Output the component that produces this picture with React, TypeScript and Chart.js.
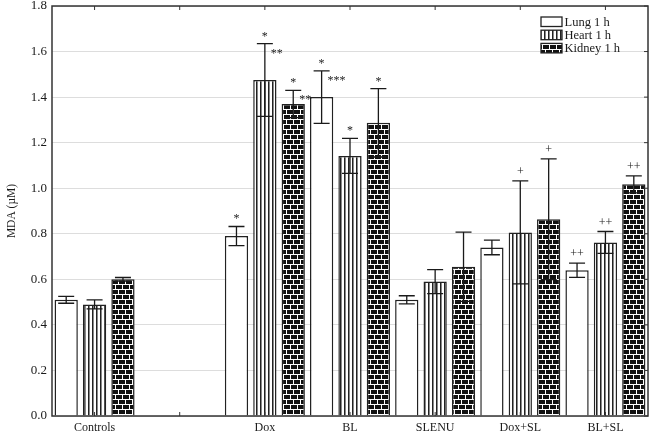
import React, { useEffect, useRef } from "react";
import { Chart, registerables } from "chart.js";
Chart.register(...registerables);

const categories = ["Controls", "", "Dox", "BL", "SLENU", "Dox+SL", "BL+SL"];
const seriesLabels = ["Lung 1 h", "Heart 1 h", "Kidney 1 h"];
const lungValues = [0.51, null, 0.79, 1.4, 0.51, 0.74, 0.64];
const heartValues = [0.49, null, 1.475, 1.142, 0.59, 0.806, 0.762];
const kidneyValues = [0.6, null, 1.37, 1.287, 0.655, 0.864, 1.017];
const lungErrors = [0.015, null, 0.042, 0.115, 0.018, 0.032, 0.031];
const heartErrors = [0.02, null, 0.16, 0.077, 0.053, 0.226, 0.048];
const kidneyErrors = [0.008, null, 0.06, 0.15, 0.152, 0.265, 0.037];
const lungMarks = ["", "", "*", "*", "", "", "++"];
const heartMarks = ["", "", "*", "*", "", "+", "++"];
const kidneyMarks = ["", "", "*", "*", "", "+", "++"];
const lungSideMarks = ["", "", "", "***", "", "", ""];
const heartSideMarks = ["", "", "**", "", "", "", ""];
const kidneySideMarks = ["", "", "**", "", "", "", ""];
const yMin = 0;
const yMax = 1.8;
const yStep = 0.2;
const yTitle = "MDA (\u00b5M)";

const SERIF = "'Liberation Serif', 'DejaVu Serif', serif";

function makePattern(kind: string): CanvasPattern | string {
  const c = document.createElement("canvas");
  const ctx = c.getContext("2d")!;
  if (kind === "stripes") {
    c.width = 4;
    c.height = 4;
    ctx.fillStyle = "#ffffff";
    ctx.fillRect(0, 0, 4, 4);
    ctx.fillStyle = "#222222";
    ctx.fillRect(0, 0, 1, 4);
    ctx.fillStyle = "#888888";
    ctx.fillRect(1, 0, 1, 4);
  } else if (kind === "bricks") {
    c.width = 7;
    c.height = 10;
    ctx.fillStyle = "#ffffff";
    ctx.fillRect(0, 0, 7, 10);
    ctx.fillStyle = "#111111";
    ctx.fillRect(0, 0, 6, 4);
    ctx.fillRect(0, 5, 3, 4);
    ctx.fillRect(4, 5, 3, 4);
  } else {
    return "#ffffff";
  }
  return ctx.createPattern(c, "repeat")!;
}

const errorsBySeries = [lungErrors, heartErrors, kidneyErrors];
const marksBySeries = [lungMarks, heartMarks, kidneyMarks];
const sideBySeries = [lungSideMarks, heartSideMarks, kidneySideMarks];

const errorBarPlugin = {
  id: "errorBars",
  afterDatasetsDraw(chart: any) {
    const ctx = chart.ctx;
    const ys = chart.scales.y;
    ctx.save();
    ctx.strokeStyle = "#1a1a1a";
    ctx.lineWidth = 1.3;
    ctx.fillStyle = "#1a1a1a";
    ctx.font = `12px ${SERIF}`;
    ctx.textBaseline = "alphabetic";
    chart.data.datasets.forEach((ds: any, d: number) => {
      const meta = chart.getDatasetMeta(d);
      ds.data.forEach((v: number | null, i: number) => {
        if (v === null || v === undefined) return;
        const e = errorsBySeries[d][i];
        const el = meta.data[i];
        const x = el.x;
        if (e !== null && e !== undefined) {
          const yHi = ys.getPixelForValue(v + e);
          const yLo = ys.getPixelForValue(v - e);
          const hw = 8;
          ctx.beginPath();
          ctx.moveTo(x, yHi);
          ctx.lineTo(x, yLo);
          ctx.moveTo(x - hw, yHi);
          ctx.lineTo(x + hw, yHi);
          ctx.moveTo(x - hw, yLo);
          ctx.lineTo(x + hw, yLo);
          ctx.stroke();
          const m = marksBySeries[d][i];
          if (m) {
            const off = m.includes("*") ? 4 : 6;
            ctx.textAlign = "center";
            ctx.fillText(m, x, yHi - off);
          }
          const s = sideBySeries[d][i];
          if (s) {
            ctx.textAlign = "left";
            ctx.fillText(s, x + 6, yHi + 13);
          }
        }
      });
    });
    ctx.restore();
  },
};

const framePlugin = {
  id: "frame",
  afterDraw(chart: any) {
    const ctx = chart.ctx;
    const a = chart.chartArea;
    const xs = chart.scales.x;
    const ys = chart.scales.y;
    ctx.save();
    ctx.strokeStyle = "#333333";
    ctx.lineWidth = 1.5;
    ctx.strokeRect(a.left, a.top, a.right - a.left, a.bottom - a.top);
    ctx.lineWidth = 1;
    ctx.beginPath();
    categories.forEach((_c, i) => {
      const x = xs.getPixelForTick(i);
      ctx.moveTo(x, a.top);
      ctx.lineTo(x, a.top + 4);
      ctx.moveTo(x, a.bottom);
      ctx.lineTo(x, a.bottom - 4);
    });
    for (let v = yMin; v <= yMax + 1e-9; v += yStep) {
      const y = ys.getPixelForValue(v);
      ctx.moveTo(a.right, y);
      ctx.lineTo(a.right - 4, y);
    }
    ctx.stroke();
    ctx.restore();
  },
};

const legendPlugin = {
  id: "customLegend",
  afterDraw(chart: any) {
    const ctx = chart.ctx;
    ctx.save();
    const bx = 541;
    const by = 17;
    const bw = 21;
    const bh = 9.5;
    const gap = 13.2;
    ctx.font = `12.5px ${SERIF}`;
    ctx.textAlign = "left";
    ctx.textBaseline = "middle";
    chart.data.datasets.forEach((ds: any, d: number) => {
      const y = by + d * gap;
      ctx.fillStyle = ds.backgroundColor;
      ctx.fillRect(bx, y, bw, bh);
      ctx.strokeStyle = "#222";
      ctx.lineWidth = 1.3;
      ctx.strokeRect(bx, y, bw, bh);
      ctx.fillStyle = "#1a1a1a";
      ctx.fillText(ds.label, bx + bw + 2.5, y + bh / 2 + 0.5);
    });
    ctx.restore();
  },
};

export default function App() {
  const ref = useRef<HTMLCanvasElement>(null);
  useEffect(() => {
    document.body.style.margin = "0";
    const canvas = ref.current!;
    const fills = [makePattern("plain"), makePattern("stripes"), makePattern("bricks")];
    const valuesBySeries = [lungValues, heartValues, kidneyValues];
    const chart = new Chart(canvas, {
      type: "bar",
      data: {
        labels: categories,
        datasets: seriesLabels.map((label, d) => ({
          label,
          data: valuesBySeries[d] as any,
          backgroundColor: fills[d] as any,
          borderColor: "#222222",
          borderWidth: 1.5,
          categoryPercentage: 1.0,
          barPercentage: 0.82,
        })),
      },
      options: {
        responsive: false,
        animation: false,
        devicePixelRatio: 1,
        layout: { padding: { top: 6, right: 2, left: 0, bottom: 0 } },
        plugins: {
          legend: { display: false },
          tooltip: { enabled: false },
        },
        scales: {
          x: {
            grid: { display: false, drawTicks: false },
            border: { display: false },
            ticks: {
              padding: 5,
              color: "#1a1a1a",
              font: { family: SERIF, size: 12 },
              maxRotation: 0,
              autoSkip: false,
            },
            afterFit(scale: any) {
              scale.height = 21;
              scale.paddingLeft = 0;
              scale.paddingRight = 0;
            },
          },
          y: {
            min: yMin,
            max: yMax,
            grid: { color: "#dddddd", lineWidth: 1, drawTicks: false },
            border: { display: false },
            ticks: {
              stepSize: yStep,
              padding: 5,
              color: "#1a1a1a",
              font: { family: SERIF, size: 13 },
              callback: (v: any) => Number(v).toFixed(1),
            },
            title: {
              display: true,
              text: yTitle,
              color: "#1a1a1a",
              font: { family: SERIF, size: 11.5 },
              padding: { top: 5, bottom: 0 },
            },
            afterFit(scale: any) {
              scale.width = 52;
              scale.paddingTop = 0;
              scale.paddingBottom = 0;
            },
          },
        },
      },
      plugins: [errorBarPlugin, framePlugin, legendPlugin],
    });
    return () => chart.destroy();
  }, []);
  return (
    <div style={{ width: 650, height: 437 }}>
      <canvas ref={ref} width={650} height={437} style={{ display: "block" }} />
    </div>
  );
}
